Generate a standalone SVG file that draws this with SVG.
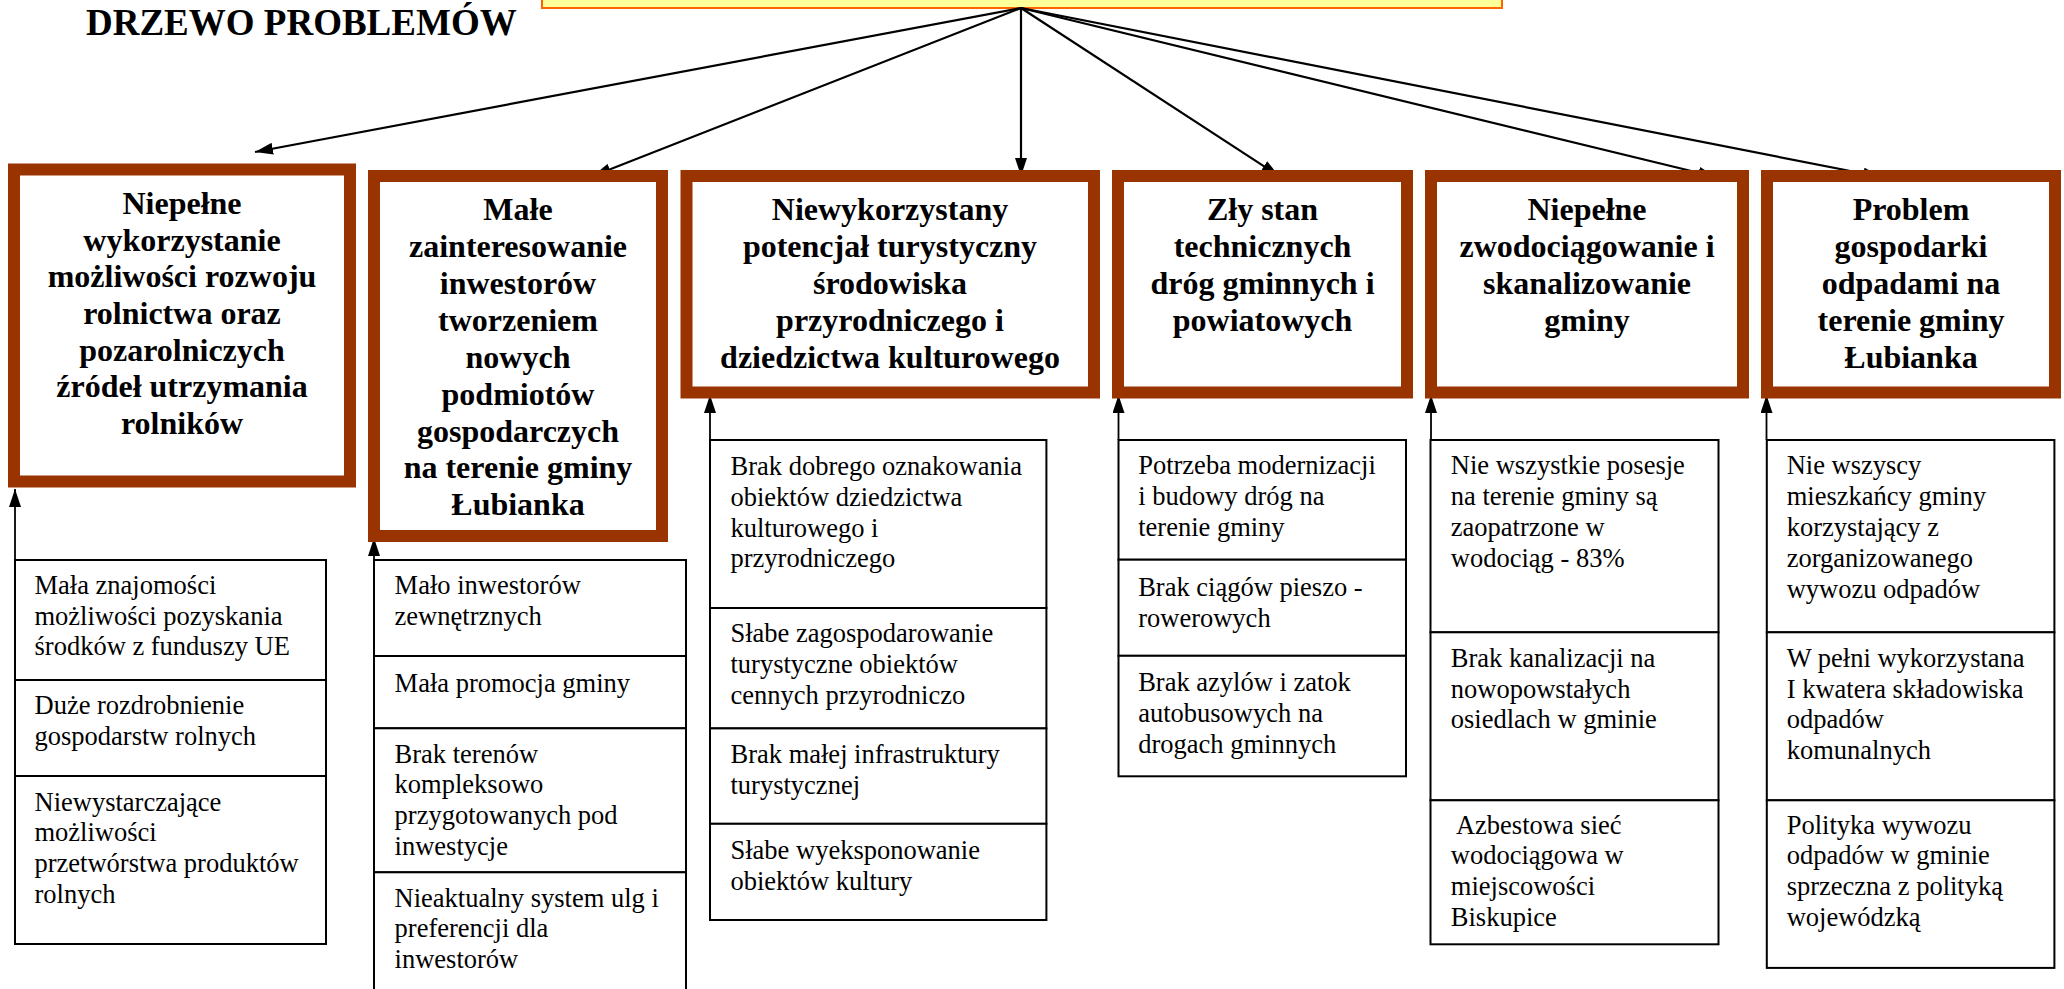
<svg xmlns="http://www.w3.org/2000/svg" width="2064" height="989" viewBox="0 0 2064 989">
<style>
.title{font-family:"Liberation Serif","Times New Roman",serif;font-weight:bold;font-size:37px;fill:#000}
.main{fill:#fff;stroke:#993300;stroke-width:12}
.mt{font-family:"Liberation Serif","Times New Roman",serif;font-weight:bold;font-size:32px;fill:#000;text-anchor:middle}
.cell{fill:#fff;stroke:#000;stroke-width:2}
.st{font-family:"Liberation Serif","Times New Roman",serif;font-size:26.5px;fill:#000}
.con{stroke:#000;stroke-width:2.2;fill:none}
.up{stroke:#000;stroke-width:1.8;fill:none}
</style>
<defs>
<marker id="ah" markerWidth="18" markerHeight="12" refX="18" refY="6" orient="auto" markerUnits="userSpaceOnUse">
<path d="M0,0 L18,6 L0,12 z" fill="#000"/>
</marker>
</defs>
<rect width="2064" height="989" fill="#fff"/>

<g id="title">
<text class="title" x="86" y="35">DRZEWO PROBLEMÓW</text>
</g>

<g id="root">
<rect x="542" y="-40" width="960" height="48" fill="#FFFF99" stroke="#FF6600" stroke-width="2"/>
</g>

<g id="connectors">
<line class="con" x1="1021" y1="8" x2="255" y2="152" marker-end="url(#ah)"/>
<line class="con" x1="1021" y1="8" x2="593" y2="176" marker-end="url(#ah)"/>
<line class="con" x1="1021" y1="8" x2="1021" y2="176" marker-end="url(#ah)"/>
<line class="con" x1="1021" y1="8" x2="1279" y2="176" marker-end="url(#ah)"/>
<line class="con" x1="1021" y1="8" x2="1716" y2="177" marker-end="url(#ah)"/>
<line class="con" x1="1021" y1="8" x2="1881" y2="177" marker-end="url(#ah)"/>
<line class="up" x1="15" y1="560" x2="15" y2="489" marker-end="url(#ah)"/>
<line class="up" x1="374" y1="560" x2="374" y2="538" marker-end="url(#ah)"/>
<line class="up" x1="710" y1="440" x2="710" y2="395" marker-end="url(#ah)"/>
<line class="up" x1="1118.5" y1="440" x2="1118.5" y2="395" marker-end="url(#ah)"/>
<line class="up" x1="1431" y1="440" x2="1431" y2="395" marker-end="url(#ah)"/>
<line class="up" x1="1766.5" y1="440" x2="1766.5" y2="395" marker-end="url(#ah)"/>
</g>

<g id="box1">
<rect class="main" x="14" y="169.5" width="336" height="312"/>
<text class="mt" x="182" y="214">Niepełne</text>
<text class="mt" x="182" y="250.5">wykorzystanie</text>
<text class="mt" x="182" y="287">możliwości rozwoju</text>
<text class="mt" x="182" y="323.5">rolnictwa oraz</text>
<text class="mt" x="182" y="360.5">pozarolniczych</text>
<text class="mt" x="182" y="397">źródeł utrzymania</text>
<text class="mt" x="182" y="434">rolników</text>
</g>

<g id="box2">
<rect class="main" x="374" y="176" width="288" height="360"/>
<text class="mt" x="518" y="220">Małe</text>
<text class="mt" x="518" y="257">zainteresowanie</text>
<text class="mt" x="518" y="294">inwestorów</text>
<text class="mt" x="518" y="331">tworzeniem</text>
<text class="mt" x="518" y="368">nowych</text>
<text class="mt" x="518" y="404.5">podmiotów</text>
<text class="mt" x="518" y="441.5">gospodarczych</text>
<text class="mt" x="518" y="478">na terenie gminy</text>
<text class="mt" x="518" y="515">Łubianka</text>
</g>

<g id="box3">
<rect class="main" x="686.5" y="176" width="407.5" height="216.5"/>
<text class="mt" x="890" y="220">Niewykorzystany</text>
<text class="mt" x="890" y="257">potencjał turystyczny</text>
<text class="mt" x="890" y="294">środowiska</text>
<text class="mt" x="890" y="331">przyrodniczego i</text>
<text class="mt" x="890" y="368">dziedzictwa kulturowego</text>
</g>

<g id="box4">
<rect class="main" x="1118" y="176" width="289" height="216.5"/>
<text class="mt" x="1262.5" y="220">Zły stan</text>
<text class="mt" x="1262.5" y="257">technicznych</text>
<text class="mt" x="1262.5" y="294">dróg gminnych i</text>
<text class="mt" x="1262.5" y="331">powiatowych</text>
</g>

<g id="box5">
<rect class="main" x="1431" y="176" width="312" height="216.5"/>
<text class="mt" x="1587" y="220">Niepełne</text>
<text class="mt" x="1587" y="257">zwodociągowanie i</text>
<text class="mt" x="1587" y="294">skanalizowanie</text>
<text class="mt" x="1587" y="331">gminy</text>
</g>

<g id="box6">
<rect class="main" x="1767" y="176" width="288" height="216.5"/>
<text class="mt" x="1911" y="220">Problem</text>
<text class="mt" x="1911" y="257">gospodarki</text>
<text class="mt" x="1911" y="294">odpadami na</text>
<text class="mt" x="1911" y="331">terenie gminy</text>
<text class="mt" x="1911" y="368">Łubianka</text>
</g>

<g id="causes1">
<rect class="cell" x="15" y="560" width="311" height="120"/>
<rect class="cell" x="15" y="680" width="311" height="96"/>
<rect class="cell" x="15" y="776" width="311" height="168"/>
<text class="st" x="34.5" y="594">Mała znajomości</text>
<text class="st" x="34.5" y="624.7">możliwości pozyskania</text>
<text class="st" x="34.5" y="655.3">środków z funduszy UE</text>
<text class="st" x="34.5" y="714">Duże rozdrobnienie</text>
<text class="st" x="34.5" y="744.7">gospodarstw rolnych</text>
<text class="st" x="34.5" y="810.7">Niewystarczające</text>
<text class="st" x="34.5" y="841.4">możliwości</text>
<text class="st" x="34.5" y="872.1">przetwórstwa produktów</text>
<text class="st" x="34.5" y="902.8">rolnych</text>
</g>

<g id="causes2">
<rect class="cell" x="374" y="560" width="312" height="96"/>
<rect class="cell" x="374" y="656" width="312" height="72.3"/>
<rect class="cell" x="374" y="728.3" width="312" height="144"/>
<rect class="cell" x="374" y="872.3" width="312" height="140"/>
<text class="st" x="394.6" y="594">Mało inwestorów</text>
<text class="st" x="394.6" y="624.7">zewnętrznych</text>
<text class="st" x="394.6" y="691.7">Mała promocja gminy</text>
<text class="st" x="394.6" y="762.7">Brak terenów</text>
<text class="st" x="394.6" y="793.4">kompleksowo</text>
<text class="st" x="394.6" y="824.1">przygotowanych pod</text>
<text class="st" x="394.6" y="854.8">inwestycje</text>
<text class="st" x="394.6" y="906.7">Nieaktualny system ulg i</text>
<text class="st" x="394.6" y="937.4">preferencji dla</text>
<text class="st" x="394.6" y="968.1">inwestorów</text>
</g>

<g id="causes3">
<rect class="cell" x="710" y="440" width="336.4" height="168"/>
<rect class="cell" x="710" y="608" width="336.4" height="120.4"/>
<rect class="cell" x="710" y="728.4" width="336.4" height="95.4"/>
<rect class="cell" x="710" y="823.8" width="336.4" height="96.2"/>
<text class="st" x="730.5" y="475">Brak dobrego oznakowania</text>
<text class="st" x="730.5" y="505.8">obiektów dziedzictwa</text>
<text class="st" x="730.5" y="536.6">kulturowego i</text>
<text class="st" x="730.5" y="567.4">przyrodniczego</text>
<text class="st" x="730.5" y="642">Słabe zagospodarowanie</text>
<text class="st" x="730.5" y="672.8">turystyczne obiektów</text>
<text class="st" x="730.5" y="703.6">cennych przyrodniczo</text>
<text class="st" x="730.5" y="762.9">Brak małej infrastruktury</text>
<text class="st" x="730.5" y="793.7">turystycznej</text>
<text class="st" x="730.5" y="859">Słabe wyeksponowanie</text>
<text class="st" x="730.5" y="889.8">obiektów kultury</text>
</g>

<g id="causes4">
<rect class="cell" x="1118.5" y="440" width="287.5" height="119.7"/>
<rect class="cell" x="1118.5" y="559.7" width="287.5" height="96.1"/>
<rect class="cell" x="1118.5" y="655.8" width="287.5" height="120.5"/>
<text class="st" x="1138.2" y="474.4">Potrzeba modernizacji</text>
<text class="st" x="1138.2" y="505.2">i budowy dróg na</text>
<text class="st" x="1138.2" y="536">terenie gminy</text>
<text class="st" x="1138.2" y="596">Brak ciągów pieszo -</text>
<text class="st" x="1138.2" y="626.8">rowerowych</text>
<text class="st" x="1138.2" y="691.4">Brak azylów i zatok</text>
<text class="st" x="1138.2" y="722.2">autobusowych na</text>
<text class="st" x="1138.2" y="753">drogach gminnych</text>
</g>

<g id="causes5">
<rect class="cell" x="1430.5" y="440" width="288" height="192.3"/>
<rect class="cell" x="1430.5" y="632.3" width="288" height="168"/>
<rect class="cell" x="1430.5" y="800.3" width="288" height="144"/>
<text class="st" x="1450.8" y="474.4">Nie wszystkie posesje</text>
<text class="st" x="1450.8" y="505.2">na terenie gminy są</text>
<text class="st" x="1450.8" y="536">zaopatrzone w</text>
<text class="st" x="1450.8" y="566.8">wodociąg - 83%</text>
<text class="st" x="1450.8" y="666.7">Brak kanalizacji na</text>
<text class="st" x="1450.8" y="697.5">nowopowstałych</text>
<text class="st" x="1450.8" y="728.3">osiedlach w gminie</text>
<text class="st" x="1450.8" y="833.6" xml:space="preserve"> Azbestowa sieć</text>
<text class="st" x="1450.8" y="864.4">wodociągowa w</text>
<text class="st" x="1450.8" y="895.2">miejscowości</text>
<text class="st" x="1450.8" y="926">Biskupice</text>
</g>

<g id="causes6">
<rect class="cell" x="1766.8" y="440" width="287.6" height="192.3"/>
<rect class="cell" x="1766.8" y="632.3" width="287.6" height="168"/>
<rect class="cell" x="1766.8" y="800.3" width="287.6" height="167.6"/>
<text class="st" x="1786.7" y="474.4">Nie wszyscy</text>
<text class="st" x="1786.7" y="505.2">mieszkańcy gminy</text>
<text class="st" x="1786.7" y="536">korzystający z</text>
<text class="st" x="1786.7" y="566.8">zorganizowanego</text>
<text class="st" x="1786.7" y="597.6">wywozu odpadów</text>
<text class="st" x="1786.7" y="666.7">W pełni wykorzystana</text>
<text class="st" x="1786.7" y="697.5">I kwatera składowiska</text>
<text class="st" x="1786.7" y="728.3">odpadów</text>
<text class="st" x="1786.7" y="759.1">komunalnych</text>
<text class="st" x="1786.7" y="833.6">Polityka wywozu</text>
<text class="st" x="1786.7" y="864.4">odpadów w gminie</text>
<text class="st" x="1786.7" y="895.2">sprzeczna z polityką</text>
<text class="st" x="1786.7" y="926">wojewódzką</text>
</g>
</svg>
